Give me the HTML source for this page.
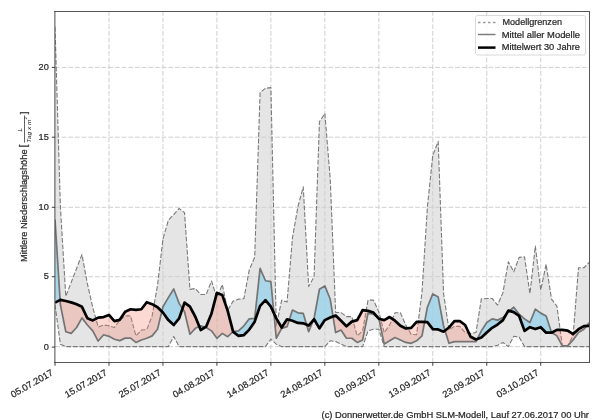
<!DOCTYPE html>
<html><head><meta charset="utf-8"><style>
html,body{margin:0;padding:0;background:#fff;width:600px;height:420px;overflow:hidden}
svg{display:block;font-family:"Liberation Sans",sans-serif;will-change:transform}
text{stroke:#262626;stroke-width:0.22px}
</style></head><body>
<svg width="600" height="420" viewBox="0 0 600 420">
<defs><clipPath id="ax"><rect x="55" y="11.6" width="534.3" height="350.7"/></clipPath></defs>
<rect width="600" height="420" fill="#fff"/>
<g clip-path="url(#ax)">
<polygon points="55.00,26.86 60.40,207.00 65.79,296.37 71.19,282.41 76.59,268.44 81.98,254.48 87.38,283.80 92.78,307.54 98.18,327.09 103.57,325.00 108.97,325.69 114.37,327.51 119.76,320.11 125.16,315.92 130.56,315.92 135.95,335.89 141.35,330.02 146.75,329.60 152.15,315.92 157.54,285.20 162.94,239.12 168.34,220.27 173.73,214.54 179.13,208.40 184.53,212.59 189.93,289.39 195.32,288.55 200.72,294.55 206.12,294.55 211.51,281.01 216.91,297.77 222.31,284.50 227.70,310.33 233.10,301.12 238.50,299.16 243.90,298.60 249.29,269.84 254.69,257.27 260.09,92.50 265.48,88.31 270.88,87.61 276.28,325.69 281.67,300.14 287.07,301.96 292.47,237.72 297.87,207.00 303.26,186.75 308.66,286.59 314.06,276.82 319.45,121.82 324.85,113.44 330.25,179.07 335.64,312.43 341.04,312.57 346.44,316.62 351.84,316.62 357.23,335.89 362.63,330.86 368.03,300.14 373.42,300.14 378.82,311.73 384.22,332.68 389.61,325.14 395.01,312.71 400.41,312.71 405.81,325.14 411.20,334.35 416.60,334.77 422.00,292.18 427.39,207.00 432.79,155.33 438.19,141.37 443.58,293.58 448.98,329.88 454.38,326.39 459.78,326.39 465.17,332.68 470.57,333.37 475.97,332.54 481.36,298.88 486.76,298.46 492.16,298.46 497.55,305.03 502.95,292.60 508.35,261.88 513.75,271.79 519.14,257.41 524.54,256.85 529.94,293.58 535.33,246.10 540.73,290.09 546.13,264.25 551.52,299.16 556.92,306.14 562.32,345.80 567.72,345.80 573.11,335.47 578.51,267.74 583.91,267.74 589.30,262.30 589.30,346.64 583.91,346.64 578.51,346.64 573.11,346.64 567.72,346.64 562.32,346.64 556.92,346.64 551.52,346.64 546.13,346.64 540.73,346.64 535.33,346.64 529.94,346.64 524.54,346.64 519.14,337.14 513.75,336.31 508.35,346.64 502.95,342.45 497.55,345.24 492.16,346.64 486.76,346.64 481.36,346.64 475.97,346.64 470.57,346.64 465.17,346.64 459.78,346.64 454.38,346.64 448.98,346.64 443.58,346.64 438.19,346.64 432.79,346.64 427.39,346.64 422.00,346.64 416.60,346.64 411.20,346.64 405.81,346.64 400.41,346.64 395.01,346.64 389.61,346.64 384.22,346.64 378.82,329.19 373.42,329.19 368.03,330.86 362.63,346.64 357.23,346.64 351.84,346.64 346.44,346.64 341.04,344.13 335.64,341.61 330.25,340.78 324.85,346.64 319.45,346.64 314.06,346.64 308.66,346.64 303.26,346.64 297.87,346.64 292.47,346.64 287.07,346.64 281.67,346.64 276.28,344.13 270.88,339.10 265.48,346.64 260.09,346.64 254.69,346.64 249.29,346.64 243.90,346.64 238.50,346.64 233.10,346.64 227.70,346.64 222.31,346.64 216.91,346.64 211.51,346.64 206.12,346.64 200.72,346.64 195.32,346.64 189.93,346.64 184.53,346.64 179.13,346.64 173.73,336.45 168.34,346.64 162.94,346.64 157.54,346.64 152.15,346.64 146.75,346.64 141.35,346.64 135.95,346.64 130.56,346.64 125.16,346.64 119.76,346.64 114.37,346.64 108.97,346.64 103.57,346.64 98.18,346.64 92.78,346.64 87.38,346.64 81.98,346.64 76.59,346.64 71.19,346.64 65.79,346.64 60.40,344.13 55.00,304.75" fill="#e5e5e5" stroke="none"/>
<g stroke="#cfcfcf" stroke-width="1" stroke-dasharray="4.7 1.97" fill="none"><line x1="108.97" y1="362.5" x2="108.97" y2="11.5"/><line x1="162.94" y1="362.5" x2="162.94" y2="11.5"/><line x1="216.91" y1="362.5" x2="216.91" y2="11.5"/><line x1="270.88" y1="362.5" x2="270.88" y2="11.5"/><line x1="324.85" y1="362.5" x2="324.85" y2="11.5"/><line x1="378.82" y1="362.5" x2="378.82" y2="11.5"/><line x1="432.79" y1="362.5" x2="432.79" y2="11.5"/><line x1="486.76" y1="362.5" x2="486.76" y2="11.5"/><line x1="540.73" y1="362.5" x2="540.73" y2="11.5"/><line x1="55" y1="346.64" x2="589.3" y2="346.64"/><line x1="55" y1="276.70" x2="589.3" y2="276.70"/><line x1="55" y1="207.30" x2="589.3" y2="207.30"/><line x1="55" y1="137.20" x2="589.3" y2="137.20"/><line x1="55" y1="67.40" x2="589.3" y2="67.40"/></g>
<polyline points="55.00,26.86 60.40,207.00 65.79,296.37 71.19,282.41 76.59,268.44 81.98,254.48 87.38,283.80 92.78,307.54 98.18,327.09 103.57,325.00 108.97,325.69 114.37,327.51 119.76,320.11 125.16,315.92 130.56,315.92 135.95,335.89 141.35,330.02 146.75,329.60 152.15,315.92 157.54,285.20 162.94,239.12 168.34,220.27 173.73,214.54 179.13,208.40 184.53,212.59 189.93,289.39 195.32,288.55 200.72,294.55 206.12,294.55 211.51,281.01 216.91,297.77 222.31,284.50 227.70,310.33 233.10,301.12 238.50,299.16 243.90,298.60 249.29,269.84 254.69,257.27 260.09,92.50 265.48,88.31 270.88,87.61 276.28,325.69 281.67,300.14 287.07,301.96 292.47,237.72 297.87,207.00 303.26,186.75 308.66,286.59 314.06,276.82 319.45,121.82 324.85,113.44 330.25,179.07 335.64,312.43 341.04,312.57 346.44,316.62 351.84,316.62 357.23,335.89 362.63,330.86 368.03,300.14 373.42,300.14 378.82,311.73 384.22,332.68 389.61,325.14 395.01,312.71 400.41,312.71 405.81,325.14 411.20,334.35 416.60,334.77 422.00,292.18 427.39,207.00 432.79,155.33 438.19,141.37 443.58,293.58 448.98,329.88 454.38,326.39 459.78,326.39 465.17,332.68 470.57,333.37 475.97,332.54 481.36,298.88 486.76,298.46 492.16,298.46 497.55,305.03 502.95,292.60 508.35,261.88 513.75,271.79 519.14,257.41 524.54,256.85 529.94,293.58 535.33,246.10 540.73,290.09 546.13,264.25 551.52,299.16 556.92,306.14 562.32,345.80 567.72,345.80 573.11,335.47 578.51,267.74 583.91,267.74 589.30,262.30" fill="none" stroke="#7a7a7a" stroke-width="1.1" stroke-dasharray="4.8 1.8" stroke-linejoin="round"/>
<polyline points="55.00,304.75 60.40,344.13 65.79,346.64 71.19,346.64 76.59,346.64 81.98,346.64 87.38,346.64 92.78,346.64 98.18,346.64 103.57,346.64 108.97,346.64 114.37,346.64 119.76,346.64 125.16,346.64 130.56,346.64 135.95,346.64 141.35,346.64 146.75,346.64 152.15,346.64 157.54,346.64 162.94,346.64 168.34,346.64 173.73,336.45 179.13,346.64 184.53,346.64 189.93,346.64 195.32,346.64 200.72,346.64 206.12,346.64 211.51,346.64 216.91,346.64 222.31,346.64 227.70,346.64 233.10,346.64 238.50,346.64 243.90,346.64 249.29,346.64 254.69,346.64 260.09,346.64 265.48,346.64 270.88,339.10 276.28,344.13 281.67,346.64 287.07,346.64 292.47,346.64 297.87,346.64 303.26,346.64 308.66,346.64 314.06,346.64 319.45,346.64 324.85,346.64 330.25,340.78 335.64,341.61 341.04,344.13 346.44,346.64 351.84,346.64 357.23,346.64 362.63,346.64 368.03,330.86 373.42,329.19 378.82,329.19 384.22,346.64 389.61,346.64 395.01,346.64 400.41,346.64 405.81,346.64 411.20,346.64 416.60,346.64 422.00,346.64 427.39,346.64 432.79,346.64 438.19,346.64 443.58,346.64 448.98,346.64 454.38,346.64 459.78,346.64 465.17,346.64 470.57,346.64 475.97,346.64 481.36,346.64 486.76,346.64 492.16,346.64 497.55,345.24 502.95,342.45 508.35,346.64 513.75,336.31 519.14,337.14 524.54,346.64 529.94,346.64 535.33,346.64 540.73,346.64 546.13,346.64 551.52,346.64 556.92,346.64 562.32,346.64 567.72,346.64 573.11,346.64 578.51,346.64 583.91,346.64 589.30,346.64" fill="none" stroke="#7a7a7a" stroke-width="1.1" stroke-dasharray="4.8 1.8" stroke-linejoin="round"/>
<polygon points="55.00,219.57 60.10,300.02 60.10,300.02 55.00,302.65" fill="#91d0ec" fill-opacity="0.7"/>
<polygon points="60.10,300.02 60.40,304.75 65.79,331.70 71.19,333.37 76.59,327.51 81.98,317.87 87.38,325.00 92.78,330.86 98.18,341.05 103.57,334.77 108.97,336.31 114.37,339.24 119.76,340.64 125.16,338.12 130.56,338.12 135.95,342.45 141.35,339.94 146.75,338.26 152.15,335.89 157.54,329.19 161.80,311.45 161.80,311.45 157.54,307.26 152.15,304.19 146.75,302.23 141.35,309.22 135.95,309.91 130.56,309.22 125.16,311.73 119.76,319.83 114.37,321.09 108.97,314.94 103.57,317.04 98.18,317.59 92.78,320.39 87.38,318.29 81.98,306.84 76.59,304.33 71.19,302.37 65.79,300.98 60.40,299.86 60.10,300.02" fill="#fa8072" fill-opacity="0.3"/>
<polygon points="161.80,311.45 162.94,306.70 168.34,297.63 173.73,288.97 179.13,303.35 182.50,308.58 182.50,308.58 179.13,318.43 173.73,325.00 168.34,320.11 162.94,312.57 161.80,311.45" fill="#91d0ec" fill-opacity="0.7"/>
<polygon points="182.50,308.58 184.53,311.73 189.93,334.21 195.32,328.35 199.29,326.50 199.29,326.50 195.32,316.76 189.93,306.70 184.53,302.65 182.50,308.58" fill="#fa8072" fill-opacity="0.3"/>
<polygon points="199.29,326.50 200.72,325.83 205.22,327.23 205.22,327.23 200.72,330.02 199.29,326.50" fill="#91d0ec" fill-opacity="0.7"/>
<polygon points="205.22,327.23 206.12,327.51 211.51,330.86 216.91,338.26 222.31,333.37 227.70,336.73 233.10,331.70 233.10,331.70 227.70,310.89 222.31,295.11 216.91,292.88 211.51,313.41 206.12,326.67 205.22,327.23" fill="#fa8072" fill-opacity="0.3"/>
<polygon points="233.10,331.70 233.10,331.70 238.50,330.86 243.90,325.83 249.29,318.85 254.69,318.43 260.09,268.44 265.48,280.73 270.88,281.71 273.89,313.24 273.89,313.24 270.88,306.70 265.48,300.14 260.09,305.87 254.69,321.64 249.29,329.60 243.90,335.05 238.50,335.89 233.10,331.70 233.10,331.70" fill="#91d0ec" fill-opacity="0.7"/>
<polygon points="273.89,313.24 276.28,338.26 281.67,328.35 287.07,326.67 289.27,319.90 289.27,319.90 287.07,319.27 281.67,327.51 276.28,318.43 273.89,313.24" fill="#fa8072" fill-opacity="0.3"/>
<polygon points="289.27,319.90 292.47,310.05 297.87,312.85 303.26,313.41 306.59,324.70 306.59,324.70 303.26,323.32 297.87,322.90 292.47,320.81 289.27,319.90" fill="#91d0ec" fill-opacity="0.7"/>
<polygon points="306.59,324.70 308.66,331.70 313.41,320.02 313.41,320.02 308.66,325.55 306.59,324.70" fill="#fa8072" fill-opacity="0.3"/>
<polygon points="313.41,320.02 314.06,318.43 319.45,289.25 324.85,285.90 330.25,299.30 333.04,316.51 333.04,316.51 330.25,317.59 324.85,320.11 319.45,328.35 314.06,319.27 313.41,320.02" fill="#91d0ec" fill-opacity="0.7"/>
<polygon points="333.04,316.51 335.64,332.54 341.04,330.02 346.44,338.26 351.84,338.26 357.23,342.45 362.63,339.94 368.03,313.41 373.42,314.24 378.05,317.83 378.05,317.83 373.42,312.57 368.03,310.89 362.63,310.05 357.23,320.11 351.84,321.64 346.44,326.25 341.04,320.81 335.64,315.50 333.04,316.51" fill="#fa8072" fill-opacity="0.3"/>
<polygon points="378.05,317.83 378.82,318.43 378.88,318.73 378.88,318.73 378.82,318.71 378.05,317.83" fill="#91d0ec" fill-opacity="0.7"/>
<polygon points="378.88,318.73 384.22,344.13 389.61,340.78 395.01,337.56 400.41,339.94 405.81,342.45 411.20,343.29 416.60,340.78 422.00,335.89 424.62,321.99 424.62,321.99 422.00,321.78 416.60,321.92 411.20,327.79 405.81,328.49 400.41,325.69 395.01,320.67 389.61,317.04 384.22,320.11 378.88,318.73" fill="#fa8072" fill-opacity="0.3"/>
<polygon points="424.62,321.99 427.39,307.26 432.79,293.86 438.19,297.07 443.58,325.97 445.02,330.58 445.02,330.58 443.58,331.70 438.19,329.46 432.79,329.19 427.39,322.20 424.62,321.99" fill="#91d0ec" fill-opacity="0.7"/>
<polygon points="445.02,330.58 448.98,343.29 454.38,341.61 459.78,341.61 465.17,341.61 470.57,341.61 475.97,341.61 477.25,339.05 477.25,339.05 475.97,339.52 470.57,336.73 465.17,325.00 459.78,321.09 454.38,321.09 448.98,327.51 445.02,330.58" fill="#fa8072" fill-opacity="0.3"/>
<polygon points="477.25,339.05 481.36,330.86 486.76,322.48 492.16,318.85 497.55,320.11 502.95,317.59 506.69,313.53 506.69,313.53 502.95,320.11 497.55,324.58 492.16,327.79 486.76,332.54 481.36,337.56 477.25,339.05" fill="#91d0ec" fill-opacity="0.7"/>
<polygon points="506.69,313.53 508.35,311.73 509.35,310.90 509.35,310.90 508.35,310.61 506.69,313.53" fill="#fa8072" fill-opacity="0.3"/>
<polygon points="509.35,310.90 513.75,307.26 519.14,314.24 524.54,318.85 529.94,322.48 535.33,309.08 540.73,313.13 546.13,315.92 551.52,332.54 551.65,332.61 551.65,332.61 551.52,332.68 546.13,332.68 540.73,327.23 535.33,329.05 529.94,327.23 524.54,330.86 519.14,315.92 513.75,312.15 509.35,310.90" fill="#91d0ec" fill-opacity="0.7"/>
<polygon points="551.65,332.61 556.92,335.89 562.32,345.80 567.72,345.80 573.11,339.94 578.51,332.54 583.91,329.19 586.49,325.98 586.49,325.98 583.91,326.11 578.51,329.19 573.11,334.07 567.72,330.58 562.32,329.88 556.92,329.88 551.65,332.61" fill="#fa8072" fill-opacity="0.3"/>
<polygon points="586.49,325.98 589.30,322.48 589.30,325.83 586.49,325.98" fill="#91d0ec" fill-opacity="0.7"/>
<polyline points="55.00,219.57 60.40,304.75 65.79,331.70 71.19,333.37 76.59,327.51 81.98,317.87 87.38,325.00 92.78,330.86 98.18,341.05 103.57,334.77 108.97,336.31 114.37,339.24 119.76,340.64 125.16,338.12 130.56,338.12 135.95,342.45 141.35,339.94 146.75,338.26 152.15,335.89 157.54,329.19 162.94,306.70 168.34,297.63 173.73,288.97 179.13,303.35 184.53,311.73 189.93,334.21 195.32,328.35 200.72,325.83 206.12,327.51 211.51,330.86 216.91,338.26 222.31,333.37 227.70,336.73 233.10,331.70 238.50,330.86 243.90,325.83 249.29,318.85 254.69,318.43 260.09,268.44 265.48,280.73 270.88,281.71 276.28,338.26 281.67,328.35 287.07,326.67 292.47,310.05 297.87,312.85 303.26,313.41 308.66,331.70 314.06,318.43 319.45,289.25 324.85,285.90 330.25,299.30 335.64,332.54 341.04,330.02 346.44,338.26 351.84,338.26 357.23,342.45 362.63,339.94 368.03,313.41 373.42,314.24 378.82,318.43 384.22,344.13 389.61,340.78 395.01,337.56 400.41,339.94 405.81,342.45 411.20,343.29 416.60,340.78 422.00,335.89 427.39,307.26 432.79,293.86 438.19,297.07 443.58,325.97 448.98,343.29 454.38,341.61 459.78,341.61 465.17,341.61 470.57,341.61 475.97,341.61 481.36,330.86 486.76,322.48 492.16,318.85 497.55,320.11 502.95,317.59 508.35,311.73 513.75,307.26 519.14,314.24 524.54,318.85 529.94,322.48 535.33,309.08 540.73,313.13 546.13,315.92 551.52,332.54 556.92,335.89 562.32,345.80 567.72,345.80 573.11,339.94 578.51,332.54 583.91,329.19 589.30,322.48" fill="none" stroke="#747474" stroke-width="1.7" stroke-linejoin="round"/>
<polyline points="55.00,302.65 60.40,299.86 65.79,300.98 71.19,302.37 76.59,304.33 81.98,306.84 87.38,318.29 92.78,320.39 98.18,317.59 103.57,317.04 108.97,314.94 114.37,321.09 119.76,319.83 125.16,311.73 130.56,309.22 135.95,309.91 141.35,309.22 146.75,302.23 152.15,304.19 157.54,307.26 162.94,312.57 168.34,320.11 173.73,325.00 179.13,318.43 184.53,302.65 189.93,306.70 195.32,316.76 200.72,330.02 206.12,326.67 211.51,313.41 216.91,292.88 222.31,295.11 227.70,310.89 233.10,331.70 238.50,335.89 243.90,335.05 249.29,329.60 254.69,321.64 260.09,305.87 265.48,300.14 270.88,306.70 276.28,318.43 281.67,327.51 287.07,319.27 292.47,320.81 297.87,322.90 303.26,323.32 308.66,325.55 314.06,319.27 319.45,328.35 324.85,320.11 330.25,317.59 335.64,315.50 341.04,320.81 346.44,326.25 351.84,321.64 357.23,320.11 362.63,310.05 368.03,310.89 373.42,312.57 378.82,318.71 384.22,320.11 389.61,317.04 395.01,320.67 400.41,325.69 405.81,328.49 411.20,327.79 416.60,321.92 422.00,321.78 427.39,322.20 432.79,329.19 438.19,329.46 443.58,331.70 448.98,327.51 454.38,321.09 459.78,321.09 465.17,325.00 470.57,336.73 475.97,339.52 481.36,337.56 486.76,332.54 492.16,327.79 497.55,324.58 502.95,320.11 508.35,310.61 513.75,312.15 519.14,315.92 524.54,330.86 529.94,327.23 535.33,329.05 540.73,327.23 546.13,332.68 551.52,332.68 556.92,329.88 562.32,329.88 567.72,330.58 573.11,334.07 578.51,329.19 583.91,326.11 589.30,325.83" fill="none" stroke="#000" stroke-width="2.7" stroke-linejoin="round"/>
</g>
<g stroke="#555" stroke-width="1"><line x1="54.4" y1="11.5" x2="590" y2="11.5"/><line x1="54.4" y1="362.5" x2="590" y2="362.5"/><line x1="54.9" y1="11" x2="54.9" y2="363" stroke="#4a4a4a"/><line x1="589.5" y1="11" x2="589.5" y2="363"/></g>
<g stroke="#2a2a2a" stroke-width="0.9"><line x1="51.8" y1="347.10" x2="55" y2="347.10"/><line x1="51.8" y1="276.70" x2="55" y2="276.70"/><line x1="51.8" y1="207.30" x2="55" y2="207.30"/><line x1="51.8" y1="137.20" x2="55" y2="137.20"/><line x1="51.8" y1="67.40" x2="55" y2="67.40"/><line x1="55.00" y1="362.3" x2="55.00" y2="365.8"/><line x1="108.97" y1="362.3" x2="108.97" y2="365.8"/><line x1="162.94" y1="362.3" x2="162.94" y2="365.8"/><line x1="216.91" y1="362.3" x2="216.91" y2="365.8"/><line x1="270.88" y1="362.3" x2="270.88" y2="365.8"/><line x1="324.85" y1="362.3" x2="324.85" y2="365.8"/><line x1="378.82" y1="362.3" x2="378.82" y2="365.8"/><line x1="432.79" y1="362.3" x2="432.79" y2="365.8"/><line x1="486.76" y1="362.3" x2="486.76" y2="365.8"/><line x1="540.73" y1="362.3" x2="540.73" y2="365.8"/></g>
<g font-size="9.2" fill="#262626"><text x="48.8" y="349.50" text-anchor="end">0</text><text x="48.8" y="279.10" text-anchor="end">5</text><text x="48.8" y="209.70" text-anchor="end">10</text><text x="48.8" y="139.60" text-anchor="end">15</text><text x="48.8" y="69.80" text-anchor="end">20</text></g>
<g font-size="9.2" fill="#262626"><text transform="translate(50.50,368.9) rotate(-30)" text-anchor="end" dominant-baseline="hanging" textLength="47" lengthAdjust="spacingAndGlyphs">05.07.2017</text><text transform="translate(104.47,368.9) rotate(-30)" text-anchor="end" dominant-baseline="hanging" textLength="47" lengthAdjust="spacingAndGlyphs">15.07.2017</text><text transform="translate(158.44,368.9) rotate(-30)" text-anchor="end" dominant-baseline="hanging" textLength="47" lengthAdjust="spacingAndGlyphs">25.07.2017</text><text transform="translate(212.41,368.9) rotate(-30)" text-anchor="end" dominant-baseline="hanging" textLength="47" lengthAdjust="spacingAndGlyphs">04.08.2017</text><text transform="translate(266.38,368.9) rotate(-30)" text-anchor="end" dominant-baseline="hanging" textLength="47" lengthAdjust="spacingAndGlyphs">14.08.2017</text><text transform="translate(320.35,368.9) rotate(-30)" text-anchor="end" dominant-baseline="hanging" textLength="47" lengthAdjust="spacingAndGlyphs">24.08.2017</text><text transform="translate(374.32,368.9) rotate(-30)" text-anchor="end" dominant-baseline="hanging" textLength="47" lengthAdjust="spacingAndGlyphs">03.09.2017</text><text transform="translate(428.29,368.9) rotate(-30)" text-anchor="end" dominant-baseline="hanging" textLength="47" lengthAdjust="spacingAndGlyphs">13.09.2017</text><text transform="translate(482.26,368.9) rotate(-30)" text-anchor="end" dominant-baseline="hanging" textLength="47" lengthAdjust="spacingAndGlyphs">23.09.2017</text><text transform="translate(536.23,368.9) rotate(-30)" text-anchor="end" dominant-baseline="hanging" textLength="47" lengthAdjust="spacingAndGlyphs">03.10.2017</text></g>
<g transform="translate(27,262) rotate(-90)" font-size="9.6" fill="#262626"><text x="0" y="0" textLength="112.6" lengthAdjust="spacingAndGlyphs">Mittlere Niederschlagshöhe</text><text x="114.6" y="0.3" font-size="10.5">[</text>
<text x="130.5" y="-4.6" font-size="6" font-style="italic" style="stroke-width:0.1px">L</text>
<line x1="119.5" y1="-2.5" x2="146.5" y2="-2.5" stroke="#3a3a3a" stroke-width="0.8"/>
<text x="119.3" y="3.6" font-size="5.9" font-style="italic" style="stroke-width:0" textLength="23.2" lengthAdjust="spacingAndGlyphs">Tag x m</text>
<text x="142.8" y="-0.4" font-size="4" font-style="italic" style="stroke-width:0">2</text>
<text x="147.8" y="0">]</text></g>
<text x="589" y="418" font-size="9.36" fill="#262626" text-anchor="end">(c) Donnerwetter.de GmbH SLM-Modell, Lauf 27.06.2017 00 Uhr</text>
<g>
<rect x="475.5" y="15.5" width="110" height="39.5" rx="2" fill="#fff" fill-opacity="0.8" stroke="#d0d0d0" stroke-width="0.8"/>
<line x1="478" y1="22.5" x2="495.5" y2="22.5" stroke="#9a9a9a" stroke-width="1.3" stroke-dasharray="2.5 2.5"/>
<line x1="478" y1="34.5" x2="495.5" y2="34.5" stroke="#7d7d7d" stroke-width="1.5"/>
<line x1="478" y1="47.6" x2="495.5" y2="47.6" stroke="#000" stroke-width="2.5"/>
<g font-size="9.3" fill="#262626">
<text x="502.5" y="25" textLength="59.5" lengthAdjust="spacingAndGlyphs">Modellgrenzen</text>
<text x="501.7" y="37.5" textLength="78.3" lengthAdjust="spacingAndGlyphs">Mittel aller Modelle</text>
<text x="501.7" y="50" textLength="78.3" lengthAdjust="spacingAndGlyphs">Mittelwert 30 Jahre</text>
</g>
</g>
</svg>
</body></html>
